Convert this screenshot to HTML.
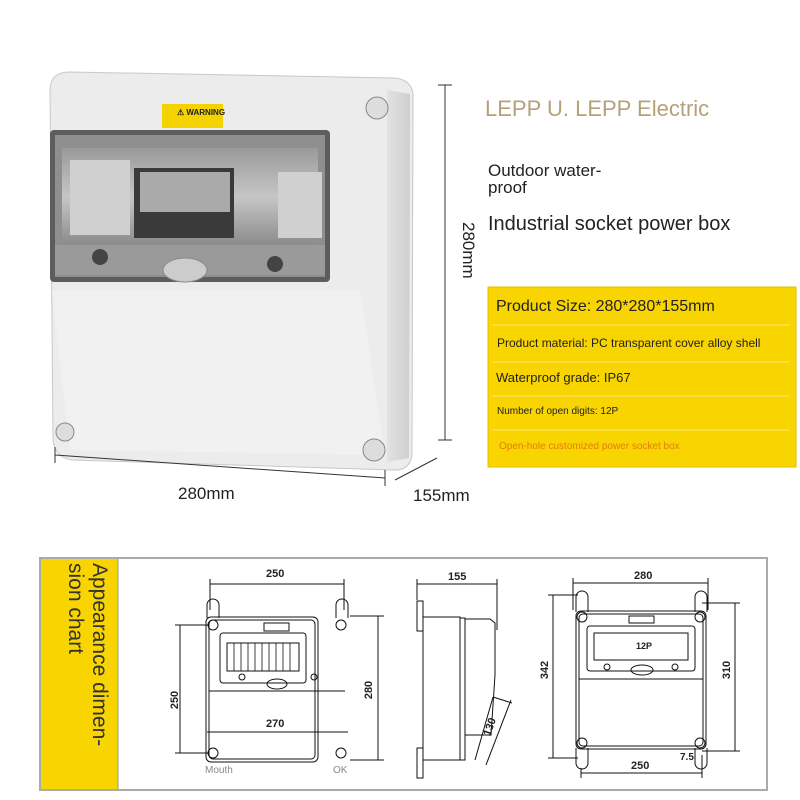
<!DOCTYPE html>
<html><head><style>
body{margin:0;width:800px;height:800px;background:#fff;overflow:hidden;font-family:"Liberation Sans",sans-serif;position:relative}
.t{position:absolute;white-space:nowrap;color:#222}
</style></head><body>
<svg width="800" height="800" style="position:absolute;left:0;top:0">
<defs>
<linearGradient id="side" x1="0" x2="1"><stop offset="0" stop-color="#e2e2e2"/><stop offset="1" stop-color="#cfcfcf"/></linearGradient>
<linearGradient id="win" x1="0" y1="0" x2="0" y2="1"><stop offset="0" stop-color="#9a9a9a"/><stop offset="0.5" stop-color="#c6c6c6"/><stop offset="1" stop-color="#8a8a8a"/></linearGradient>
</defs>
<!-- product photo -->
<path d="M70 72 L395 78 Q412 80 413 95 L412 455 Q410 470 395 470 L72 460 Q55 458 53 440 L50 90 Q50 72 70 72Z" fill="#ececec" stroke="#c8c8c8"/>
<path d="M387 90 L410 94 L409 458 L387 462Z" fill="url(#side)"/>
<path d="M52 290 L360 290 L385 455 L70 450Z" fill="#f1f1f1"/>
<rect x="50" y="130" width="280" height="152" rx="4" fill="#5d5d5d"/>
<rect x="55" y="135" width="270" height="142" fill="#8f8f8f"/>
<rect x="62" y="148" width="256" height="98" fill="url(#win)"/>
<rect x="134" y="168" width="100" height="70" fill="#3a3a3a"/>
<rect x="140" y="172" width="90" height="40" fill="#aaa"/>
<rect x="70" y="160" width="60" height="75" fill="#d0d0d0"/>
<rect x="278" y="172" width="44" height="66" fill="#d0d0d0"/>
<rect x="55" y="245" width="270" height="30" fill="#9a9a9a"/>
<rect x="162" y="104" width="61" height="24" fill="#f4d300"/>
<circle cx="100" cy="257" r="8" fill="#444"/><circle cx="275" cy="264" r="8" fill="#444"/>
<ellipse cx="185" cy="270" rx="22" ry="12" fill="#ccc" stroke="#888"/>
<circle cx="377" cy="108" r="11" fill="#ddd" stroke="#888"/><circle cx="65" cy="432" r="9" fill="#ddd" stroke="#888"/><circle cx="374" cy="450" r="11" fill="#ddd" stroke="#888"/>
<!-- dim lines top -->
<g stroke="#333" stroke-width="1">
<line x1="445" y1="85" x2="445" y2="440"/><line x1="438" y1="85" x2="452" y2="85"/><line x1="438" y1="440" x2="452" y2="440"/>
<line x1="55" y1="455" x2="385" y2="478"/><line x1="55" y1="447" x2="55" y2="463"/><line x1="385" y1="470" x2="385" y2="486"/>
<line x1="395" y1="480" x2="437" y2="458"/>
</g>
<!-- yellow info box -->
<rect x="488" y="287" width="308" height="180" fill="#f8d400" stroke="#e3c000"/>
<g stroke="#fbe680" stroke-width="1"><line x1="492" y1="325" x2="789" y2="325"/><line x1="492" y1="362" x2="789" y2="362"/><line x1="492" y1="396" x2="789" y2="396"/><line x1="492" y1="430" x2="789" y2="430"/></g>
<!-- bottom frame -->
<rect x="40" y="558" width="727" height="232" fill="none" stroke="#aaa" stroke-width="2"/>
<rect x="41" y="559" width="77" height="230" fill="#f8d400"/>
<line x1="118" y1="559" x2="118" y2="789" stroke="#999"/>
<!-- drawing 1 -->
<g stroke="#111" fill="none" stroke-width="1">
<rect x="206" y="617" width="112" height="145" rx="5"/>
<rect x="209" y="620" width="106" height="139" rx="4"/>
<path d="M207 618 v-13 a6 6 0 0 1 12 0 v13"/><path d="M336 618 v-13 a6 6 0 0 1 12 0 v13"/>
<rect x="264" y="623" width="25" height="8"/>
<rect x="220" y="633" width="86" height="50" rx="3"/>
<rect x="227" y="643" width="72" height="28"/>
<circle cx="242" cy="677" r="3"/><circle cx="314" cy="677" r="3"/>
<ellipse cx="277" cy="684" rx="10" ry="5"/>
<line x1="209" y1="691" x2="345" y2="691"/>
<circle cx="213" cy="625" r="5"/><circle cx="341" cy="625" r="5"/><circle cx="213" cy="753" r="5"/><circle cx="341" cy="753" r="5"/>
<line x1="210" y1="584" x2="344" y2="584"/><line x1="210" y1="579" x2="210" y2="610"/><line x1="344" y1="579" x2="344" y2="610"/>
<line x1="180" y1="625" x2="180" y2="753"/><line x1="175" y1="625" x2="208" y2="625"/><line x1="175" y1="753" x2="208" y2="753"/>
<line x1="378" y1="616" x2="378" y2="760"/><line x1="350" y1="616" x2="384" y2="616"/><line x1="350" y1="760" x2="384" y2="760"/>
<line x1="207" y1="732" x2="348" y2="732"/>
</g>
<g stroke="#111" stroke-width="0.8"><path d="M227 643v28M234 643v28M241 643v28M248 643v28M255 643v28M262 643v28M269 643v28M276 643v28M283 643v28M290 643v28"/></g>
<!-- drawing 2 side -->
<g stroke="#111" fill="none" stroke-width="1">
<rect x="417" y="601" width="6" height="30"/><rect x="417" y="748" width="6" height="30"/>
<rect x="423" y="617" width="37" height="143"/><rect x="460" y="618" width="5" height="142"/>
<path d="M465 619 h25 l5 4 v52 l-4 60 h-26"/>
<line x1="493" y1="697" x2="475" y2="760"/><line x1="493" y1="697" x2="512" y2="703"/>
<line x1="511" y1="700" x2="486" y2="765"/>
<line x1="417" y1="584" x2="497" y2="584"/><line x1="417" y1="579" x2="417" y2="600"/><line x1="497" y1="579" x2="497" y2="630"/>
</g>
<!-- drawing 3 -->
<g stroke="#111" fill="none" stroke-width="1">
<rect x="576" y="611" width="130" height="138" rx="5"/>
<rect x="579" y="614" width="124" height="132" rx="4"/>
<path d="M576 612 v-15 a6 6 0 0 1 12 0 v15"/><path d="M695 612 v-15 a6 6 0 0 1 12 0 v15"/>
<path d="M576 748 v15 a6 6 0 0 0 12 0 v-15"/><path d="M695 748 v15 a6 6 0 0 0 12 0 v-15"/>
<rect x="629" y="616" width="25" height="7"/>
<rect x="587" y="626" width="108" height="45" rx="3"/>
<rect x="594" y="633" width="94" height="27"/>
<circle cx="607" cy="667" r="3"/><circle cx="675" cy="667" r="3"/>
<ellipse cx="642" cy="670" rx="11" ry="5"/>
<line x1="579" y1="679" x2="703" y2="679"/>
<circle cx="582" cy="617" r="5"/><circle cx="700" cy="617" r="5"/><circle cx="582" cy="743" r="5"/><circle cx="700" cy="743" r="5"/>
<line x1="573" y1="583" x2="708" y2="583"/><line x1="573" y1="578" x2="573" y2="610"/><line x1="708" y1="578" x2="708" y2="610"/>
<line x1="553" y1="595" x2="553" y2="758"/><line x1="548" y1="595" x2="578" y2="595"/><line x1="548" y1="758" x2="578" y2="758"/>
<line x1="735" y1="603" x2="735" y2="751"/><line x1="702" y1="603" x2="740" y2="603"/><line x1="702" y1="751" x2="740" y2="751"/>
<line x1="581" y1="773" x2="702" y2="773"/><line x1="581" y1="768" x2="581" y2="778"/><line x1="702" y1="755" x2="702" y2="778"/>
</g>
</svg>
<div class="t" style="left:177px;top:108px;font-size:8px;font-weight:bold">⚠ WARNING</div>
<div class="t" style="left:485px;top:96px;font-size:22px;color:#b5a179">LEPP U. LEPP Electric</div>
<div class="t" style="left:488px;top:162px;font-size:17px;line-height:17px">Outdoor water-<br>proof</div>
<div class="t" style="left:488px;top:213px;font-size:20px">Industrial socket power box</div>
<div class="t" style="font-size:17px;transform:rotate(90deg);transform-origin:left top;left:478px;top:222px">280mm</div>
<div class="t" style="left:178px;top:484px;font-size:17px">280mm</div>
<div class="t" style="left:413px;top:486px;font-size:17px">155mm</div>
<div class="t" style="left:496px;top:298px;font-size:16px">Product Size: 280*280*155mm</div>
<div class="t" style="left:497px;top:336px;font-size:12px">Product material: PC transparent cover alloy shell</div>
<div class="t" style="left:496px;top:370px;font-size:13px">Waterproof grade: IP67</div>
<div class="t" style="left:497px;top:406px;font-size:10px">Number of open digits: 12P</div>
<div class="t" style="left:499px;top:441px;font-size:10px;color:#e87c10">Open-hole customized power socket box</div>
<div class="t" style="left:111px;top:563px;font-size:21px;line-height:24px;color:#333;transform:rotate(90deg);transform-origin:left top">Appearance dimen-<br>sion chart</div>
<div class="t" style="left:266px;top:568px;font-size:11px;font-weight:bold">250</div>
<div class="t" style="left:166px;top:694px;font-size:11px;font-weight:bold;transform:rotate(-90deg)">250</div>
<div class="t" style="left:360px;top:684px;font-size:11px;font-weight:bold;transform:rotate(-90deg)">280</div>
<div class="t" style="left:266px;top:718px;font-size:11px;font-weight:bold">270</div>
<div class="t" style="left:205px;top:765px;font-size:10px;color:#888">Mouth</div>
<div class="t" style="left:333px;top:765px;font-size:10px;color:#888">OK</div>
<div class="t" style="left:448px;top:571px;font-size:11px;font-weight:bold">155</div>
<div class="t" style="left:481px;top:721px;font-size:11px;font-weight:bold;transform:rotate(-70deg)">130</div>
<div class="t" style="left:634px;top:570px;font-size:11px;font-weight:bold">280</div>
<div class="t" style="left:636px;top:641px;font-size:9px;font-weight:bold">12P</div>
<div class="t" style="left:536px;top:664px;font-size:11px;font-weight:bold;transform:rotate(-90deg)">342</div>
<div class="t" style="left:718px;top:664px;font-size:11px;font-weight:bold;transform:rotate(-90deg)">310</div>
<div class="t" style="left:631px;top:760px;font-size:11px;font-weight:bold">250</div>
<div class="t" style="left:680px;top:752px;font-size:10px;font-weight:bold">7.5</div>
</body></html>
